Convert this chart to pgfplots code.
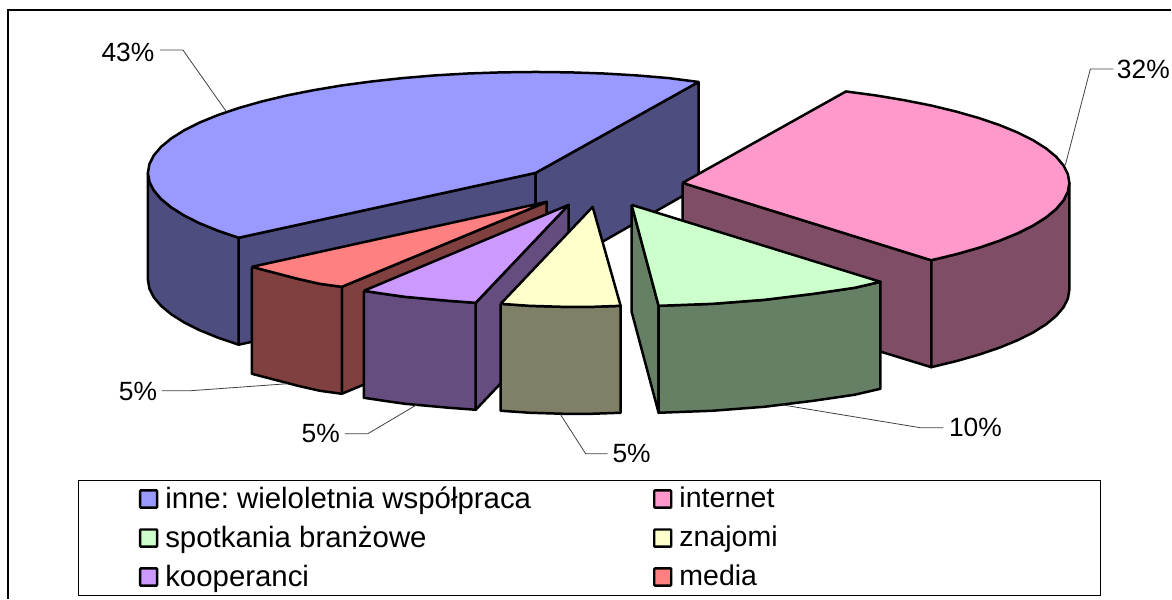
\documentclass[border=0pt]{standalone}
\usepackage{fontspec}
\setmainfont{Liberation Sans}
\usepackage{pgfplots}
\pgfplotsset{compat=1.18}
\definecolor{blueT}{HTML}{9999FF}\definecolor{blueS}{HTML}{4D4D80}
\definecolor{pinkT}{HTML}{FF99CC}\definecolor{pinkS}{HTML}{804D66}
\definecolor{greenT}{HTML}{CCFFCC}\definecolor{greenS}{HTML}{668066}
\definecolor{yellT}{HTML}{FFFFCC}\definecolor{yellS}{HTML}{808066}
\definecolor{purpT}{HTML}{CC99FF}\definecolor{purpS}{HTML}{664D80}
\definecolor{redT}{HTML}{FF8080}\definecolor{redS}{HTML}{804040}
\newcommand{\colA}{\hspace{1.5pt}\fontsize{14.7}{16}\selectfont}
\newcommand{\colB}{\hspace{1.5pt}}
\tikzset{lab/.style={inner sep=0pt, font=\fontsize{13.2}{15}\selectfont}}
\begin{document}
\begin{tikzpicture}
\begin{axis}[scale only axis, width=586pt, height=299.5pt,
    xmin=0, xmax=1172, ymin=0, ymax=599, y dir=reverse, hide axis, clip=false,
    pie/.style={forget plot, draw=black, line width=1.25pt, line join=round, mark=none},
    leader/.style={forget plot, draw=black!75, line width=0.4pt, mark=none},
    legend columns=2,
    legend cell align=left,
    legend image code/.code={\draw[#1, line width=1.2pt, rounded corners=0.4pt] (0pt,-4.3pt) rectangle (8.5pt,4.3pt);},
    legend style={at={(axis cs:78,480)}, anchor=north west, draw=black, line width=0.6pt,
        font=\fontsize{14.25}{16}\selectfont, inner xsep=30.2pt, inner ysep=1.2pt, row sep=3.3pt,
        /tikz/every even column/.append style={column sep=59pt}},
]
% keeps the whole page in the bounding box
\addplot[forget plot, draw=none, mark=none] coordinates {(0,0) (1172,599)};
% frame
\addplot[forget plot, draw=black, line width=0.7pt, mark=none] coordinates {(8,599) (8,10) (1172,10)};

% inne: wieloletnia wspolpraca
\addplot[pie, fill=blueS] coordinates {(238.8,237.9) (536,173) (536,280) (238.8,344.9) (238.8,237.9)};
\addplot[pie, fill=blueS] coordinates {(536,173) (699,82) (699,187) (536,280) (536,173)};
\addplot[pie, fill=blueS] coordinates {(148,173) (149.5,181.8) (153.9,190.5) (161.2,199.1) (171.4,207.5) (184.4,215.7) (200,223.5) (218.2,230.9) (238.8,237.9)
    (238.8,344.9) (218.2,337.9) (200,330.5) (184.4,322.7) (171.4,314.5) (161.2,306.1) (153.9,297.5) (149.5,288.8) (148,280) (148,173)};
\addplot[pie, fill=blueT] coordinates {(699,82) (668.7,78.1) (636.4,75.4) (603.4,73.5) (569.8,72.4) (536,72) (502.2,72.4) (468.6,73.5) (435.6,75.4)
    (403.3,78.1) (372,81.5) (342,85.5) (313.4,90.3) (286.6,95.6) (261.6,101.6) (238.8,108.1) (218.2,115.1) (200,122.5) (184.4,130.3) (171.4,138.5)
    (161.2,146.9) (153.9,155.5) (149.5,164.2) (148,173) (149.5,181.8) (153.9,190.5) (161.2,199.1) (171.4,207.5) (184.4,215.7) (200,223.5)
    (218.2,230.9) (238.8,237.9) (536,173) (699,82)};

% internet
\addplot[pie, fill=pinkS] coordinates {(683,183) (931.8,260.4) (931.8,367.4) (683,291) (683,183)};
\addplot[pie, fill=pinkS] coordinates {(1070,183) (1068.5,191.8) (1064.1,200.5) (1056.8,209.1) (1046.7,217.5) (1033.7,225.7) (1018.1,233.5) (1000,240.9) (979.4,247.9) (956.6,254.4) (931.8,260.4)
    (931.8,367.4) (956.6,361.4) (979.4,354.9) (1000,347.9) (1018.1,340.5) (1033.7,332.7) (1046.7,324.5) (1056.8,316.1) (1064.1,307.5) (1068.5,298.8) (1070,290) (1070,183)};
\addplot[pie, fill=pinkT] coordinates {(683,183) (846.5,91.5) (876.5,95.5) (905,100.3) (931.8,105.6) (956.6,111.6) (979.4,118.1) (1000,125.1) (1018.1,132.5) (1033.7,140.3)
    (1046.7,148.5) (1056.8,156.9) (1064.1,165.5) (1068.5,174.2) (1070,183) (1068.5,191.8) (1064.1,200.5) (1056.8,209.1) (1046.7,217.5) (1033.7,225.7)
    (1018.1,233.5) (1000,240.9) (979.4,247.9) (956.6,254.4) (931.8,260.4) (683,183)};

% media
\addplot[pie, fill=redS] coordinates {(342,287) (547,202) (547,309) (342,394) (342,287)};
\addplot[pie, fill=redS] coordinates {(252,267) (275,273) (298,279) (320,284) (342,287)
    (342,394) (320,391) (298,386) (275,380) (252,374) (252,267)};
\addplot[pie, fill=redT] coordinates {(252,267) (547,202) (342,287) (320,284) (298,279) (275,273) (252,267)};

% kooperanci
\addplot[pie, fill=purpS] coordinates {(476,303) (569,205) (569,312) (476,410) (476,303)};
\addplot[pie, fill=purpS] coordinates {(364,291) (384,294) (405,297) (449,301) (476,303)
    (476,410) (449,408) (405,404) (384,401) (364,398) (364,291)};
\addplot[pie, fill=purpT] coordinates {(364,291) (569,205) (476,303) (449,301) (405,297) (384,294) (364,291)};

% znajomi
\addplot[pie, fill=yellS] coordinates {(501,304) (530,306) (563,307) (593,307) (621,306)
    (621,413) (593,414) (563,414) (530,413) (501,411) (501,304)};
\addplot[pie, fill=yellT] coordinates {(501,304) (593,207) (621,306) (593,307) (563,307) (530,306) (501,304)};

% spotkania branzowe
\addplot[pie, fill=greenS] coordinates {(632,205) (659,306) (659,413) (632,312) (632,205)};
\addplot[pie, fill=greenS] coordinates {(659,306) (713,304) (765,300) (814,294) (855,288) (881,282)
    (881,389) (855,395) (814,401) (765,407) (713,411) (659,413) (659,306)};
\addplot[pie, fill=greenT] coordinates {(632,205) (881,282) (855,288) (814,294) (765,300) (713,304) (659,306) (632,205)};

% leader lines
\addplot[leader] coordinates {(160,50) (183,50) (226,111)};
\addplot[leader] coordinates {(1114,69) (1091,69) (1066,165)};
\addplot[leader] coordinates {(944,428) (921,428) (782,405)};
\addplot[leader] coordinates {(608,454) (586,454) (561,415)};
\addplot[leader] coordinates {(345,434) (368,434) (417,405)};
\addplot[leader] coordinates {(162,391) (190,391) (287,384)};

% data labels
\node[lab] at (axis cs:128,52) {43\%};
\node[lab] at (axis cs:1144,69) {32\%};
\node[lab] at (axis cs:976,428) {10\%};
\node[lab] at (axis cs:632,454) {5\%};
\node[lab] at (axis cs:321,434) {5\%};
\node[lab] at (axis cs:138,392) {5\%};

% legend
\addlegendimage{fill=blueT, draw=black}\addlegendentry{\colA inne:\ wieloletnia współpraca}
\addlegendimage{fill=pinkT, draw=black}\addlegendentry{\makebox[179.8pt][l]{\colB internet}}
\addlegendimage{fill=greenT, draw=black}\addlegendentry{\colA spotkania branżowe}
\addlegendimage{fill=yellT, draw=black}\addlegendentry{\colB znajomi}
\addlegendimage{fill=purpT, draw=black}\addlegendentry{\colA kooperanci}
\addlegendimage{fill=redT, draw=black}\addlegendentry{\colB media}
\end{axis}
\end{tikzpicture}
\end{document}
